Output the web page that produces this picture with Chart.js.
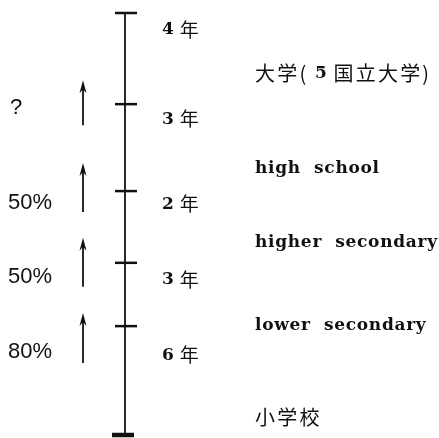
<!DOCTYPE html>
<html lang="ja">
<head>
<meta charset="UTF-8">
<title>進学率</title>
<script src="https://cdn.jsdelivr.net/npm/chart.js"></script>
<style>
  html, body { margin: 0; padding: 0; background: #fff; }
  #wrap { position: relative; width: 439px; height: 438px; }
</style>
</head>
<body>
<div id="wrap"><canvas id="c"></canvas></div>
<script>
// stages, bottom to top
const stages = ["小学校", "lower secondary", "higher secondary", "high school", "大学( 5 国立大学)"];
// length of each stage
const years = ["6", "3", "2", "3", "4"];
// height of each stage boundary in the diagram (% of the spine, bottom = 0)
const boundaries = [0, 25.8, 40.8, 57.8, 78.4, 100];
// rate of going on to the next stage
const rates = ["80%", "50%", "50%", "?"];

// layout (pixels)
const axisX = 125, arrowX = 83, yearX = 162, stageX = 255, rateX = 8;
const yearDy = [29, 17, 13, 15, 17];      // below the top of the segment
const stageDy = [-18, -1, -20, -23, -31]; // from the bottom of the segment
const rateDy = [26, 14, 12, 4];           // from the boundary
const arrowTip = [-13, -25, -28, -24], arrowTail = [37, 24, 21, 21];

const ink = '#111';
const latinFont = 'bold 17px "DejaVu Serif"';
const cjkFont = '20px "Noto Sans CJK JP"';
const digitFont = 'bold 17px "DejaVu Serif"';

function drawRuns(ctx, x, y, runs) {
  for (const [text, font, spacing] of runs) {
    ctx.font = font;
    ctx.letterSpacing = (spacing || 0) + 'px';
    ctx.fillText(text, x, y);
    x += ctx.measureText(text).width;
  }
  ctx.letterSpacing = '0px';
}

function splitDigits(text) {
  return text.split(/(\d+)/).filter(s => s.length).map(s =>
    /^\d+$/.test(s) ? [s, digitFont] : [s, cjkFont, 2.2]);
}

const labels = {
  id: 'labels',
  afterDatasetsDraw(chart) {
    const ctx = chart.ctx;
    const ys = chart.scales.y;
    ctx.save();
    ctx.fillStyle = ink;
    ctx.strokeStyle = ink;
    ctx.textBaseline = 'middle';

    // stage names and lengths
    stages.forEach((name, i) => {
      const bottom = ys.getPixelForValue(boundaries[i]);
      const top = ys.getPixelForValue(boundaries[i + 1]);
      const sy = bottom + stageDy[i];
      if (/[a-z]/.test(name)) drawRuns(ctx, stageX, sy, [[name.replace(' ', '  '), latinFont, 0.7]]);
      else drawRuns(ctx, stageX, sy, splitDigits(name));
      drawRuns(ctx, yearX, top + yearDy[i], [[years[i] + ' ', digitFont], ['年', '19px "Noto Sans CJK JP"']]);
    });

    // transition arrows and rates
    rates.forEach((r, i) => {
      const by = ys.getPixelForValue(boundaries[i + 1]);
      const tip = by + arrowTip[i], tail = by + arrowTail[i];
      ctx.lineWidth = 1.8;
      ctx.beginPath();
      ctx.moveTo(arrowX, tail);
      ctx.lineTo(arrowX, tip + 6);
      ctx.stroke();
      ctx.beginPath();
      ctx.moveTo(arrowX, tip);
      ctx.lineTo(arrowX - 3.5, tip + 13);
      ctx.lineTo(arrowX, tip + 9);
      ctx.lineTo(arrowX + 3.5, tip + 13);
      ctx.closePath();
      ctx.fill();
      ctx.font = '22px "Liberation Sans"';
      ctx.fillText(r, r === '?' ? rateX + 2 : rateX, by + rateDy[i]);
    });
    ctx.restore();
  }
};

new Chart(document.getElementById('c'), {
  type: 'scatter',
  data: {
    datasets: [
      {
        data: boundaries.map(b => ({ x: axisX, y: b })),
        showLine: true, borderColor: ink, borderWidth: 1.8, pointRadius: 0
      },
      {
        data: boundaries.slice(1).map(b => ({ x: axisX + 1, y: b })),
        pointStyle: 'line', pointRadius: 11, pointBorderWidth: 2.5,
        borderColor: ink, showLine: false
      },
      {
        data: [{ x: axisX - 2, y: boundaries[0] }],
        pointStyle: 'line', pointRadius: 11, pointBorderWidth: 4.5,
        borderColor: ink, showLine: false
      }
    ]
  },
  options: {
    responsive: true,
    maintainAspectRatio: false,
    animation: false,
    layout: { padding: 0, autoPadding: false },
    scales: {
      x: { type: 'linear', min: 0, max: 439, display: false },
      y: { type: 'linear', min: -0.711, max: 103.08, display: false }
    },
    plugins: { legend: { display: false }, tooltip: { enabled: false } },
    events: []
  },
  plugins: [labels]
});
</script>
</body>
</html>
